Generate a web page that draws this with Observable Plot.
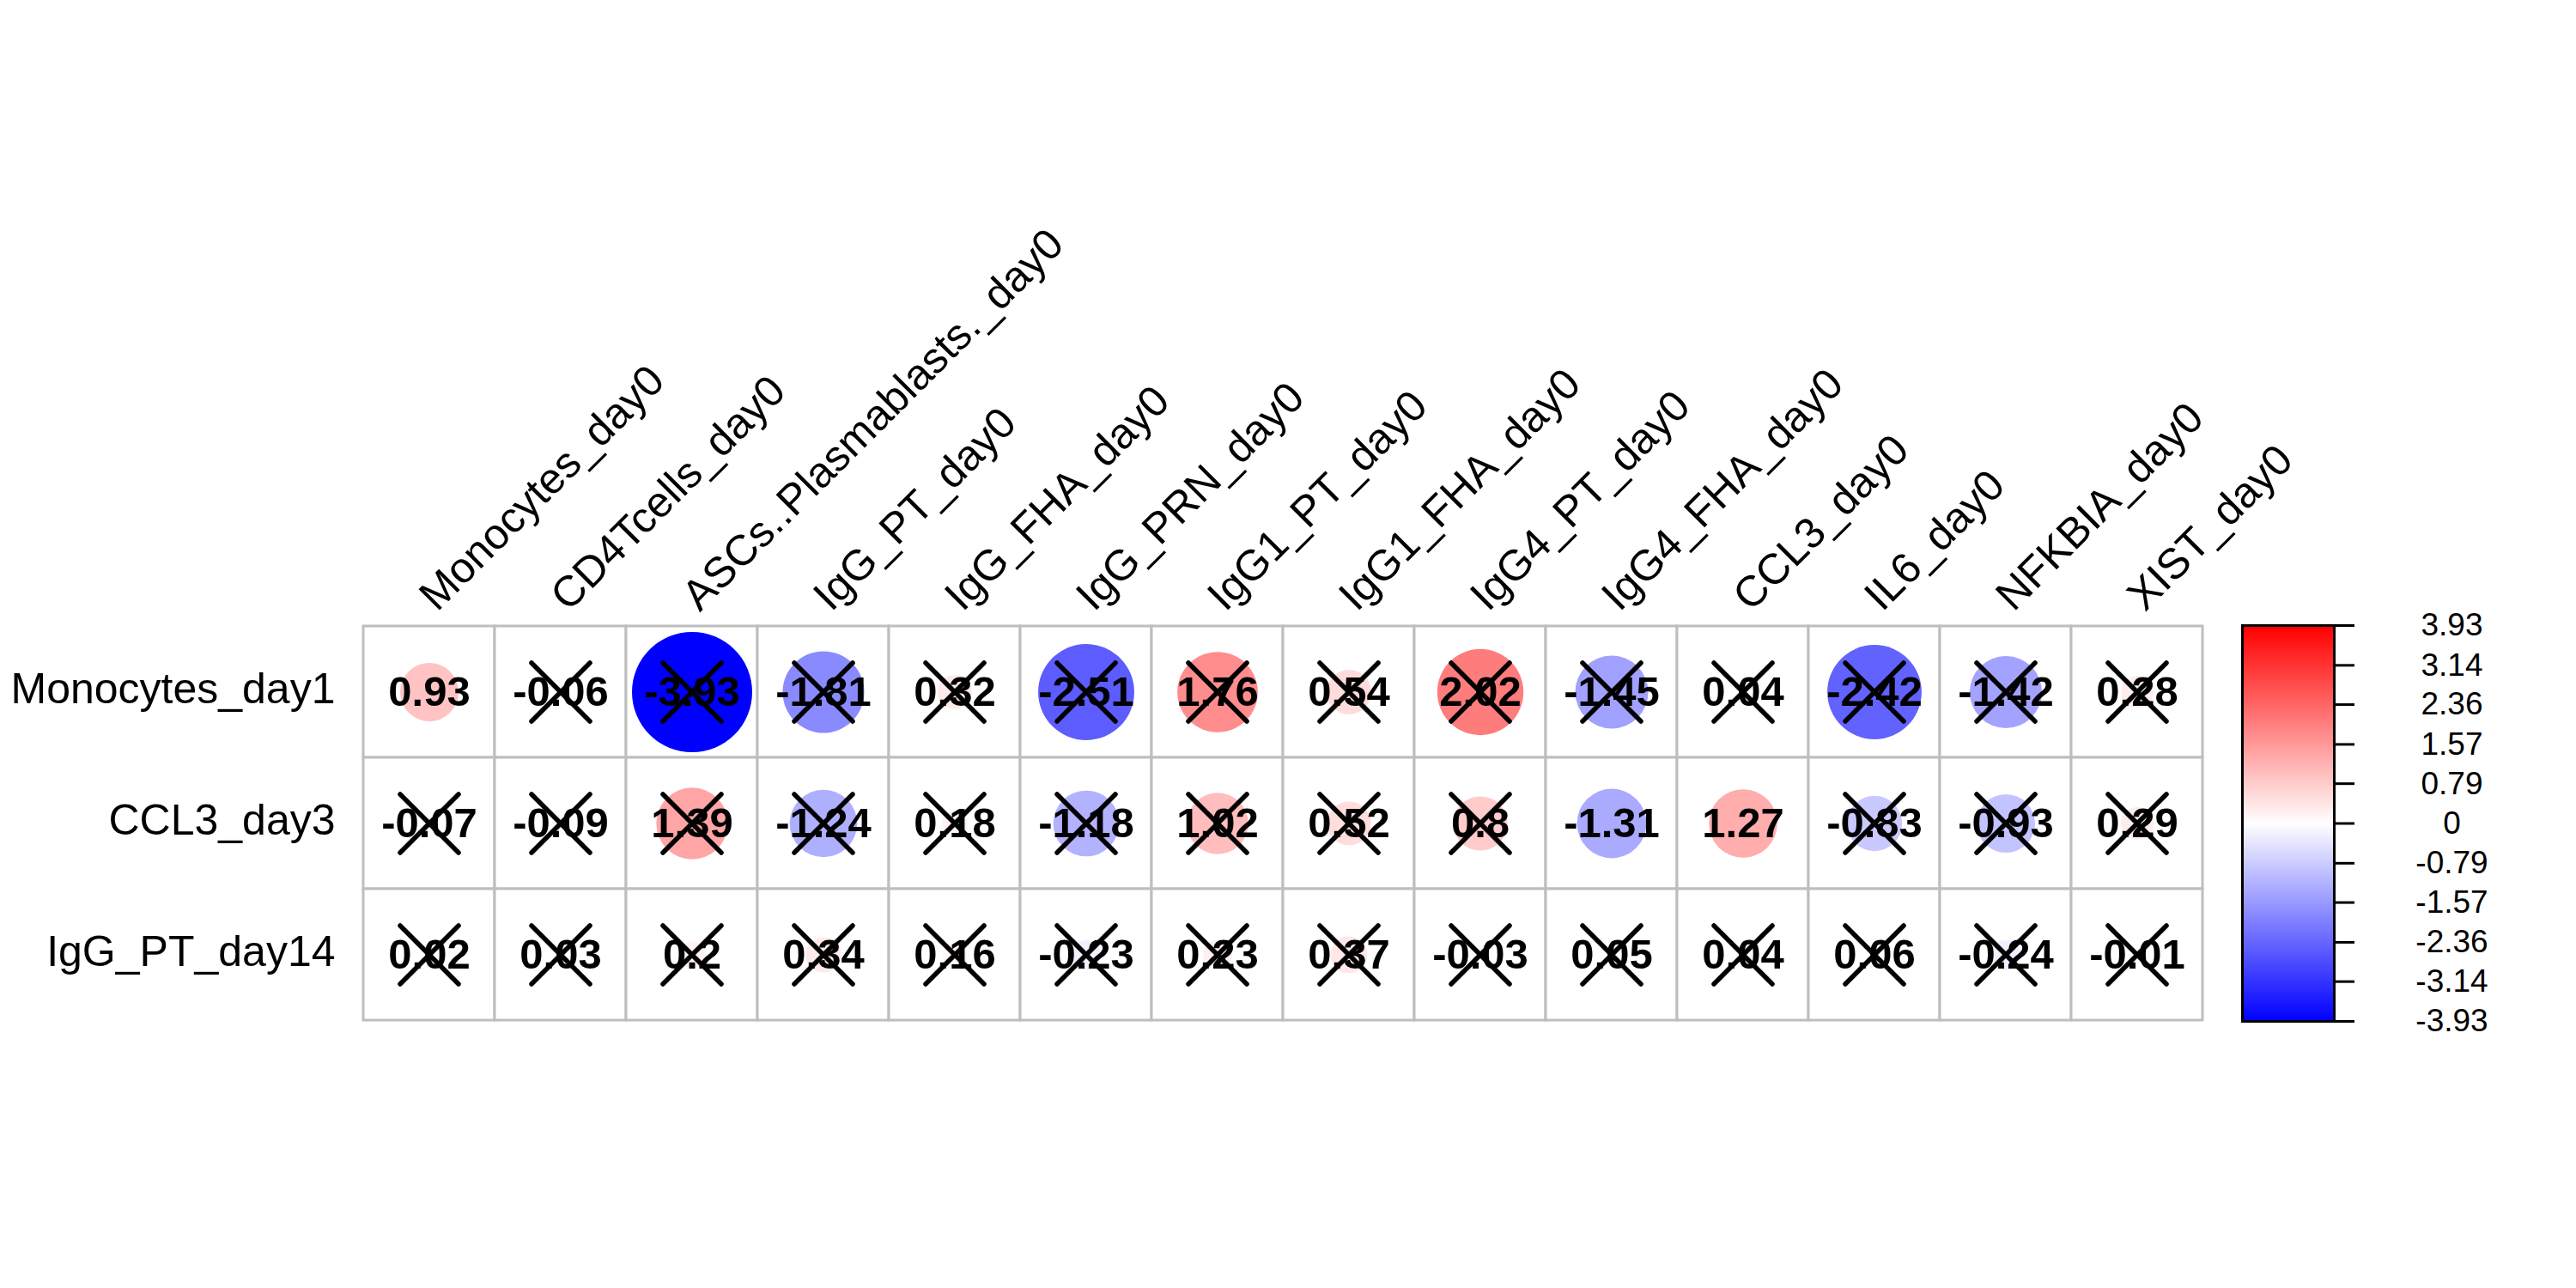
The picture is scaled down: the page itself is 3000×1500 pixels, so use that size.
<!DOCTYPE html>
<html>
<head>
<meta charset="utf-8">
<script src="https://cdn.jsdelivr.net/npm/d3@7"></script>
<script src="https://cdn.jsdelivr.net/npm/@observablehq/plot@0.6"></script>
<style>
  html, body { margin: 0; padding: 0; background: white; }
  #wrap { position: relative; width: 3000px; height: 1500px; background: white; }
  #wrap > svg { position: absolute; top: 0; }
</style>
</head>
<body>
<div id="wrap"></div>
<script>
const columns = ["Monocytes_day0","CD4Tcells_day0","ASCs..Plasmablasts._day0","IgG_PT_day0","IgG_FHA_day0","IgG_PRN_day0","IgG1_PT_day0","IgG1_FHA_day0","IgG4_PT_day0","IgG4_FHA_day0","CCL3_day0","IL6_day0","NFKBIA_day0","XIST_day0"];
const rows = ["Monocytes_day1","CCL3_day3","IgG_PT_day14"];

const valuesMonocytesDay1 = [0.93,-0.06,-3.93,-1.81,0.32,-2.51,1.76,0.54,2.02,-1.45,0.04,-2.42,-1.42,0.28];
const valuesCCL3Day3      = [-0.07,-0.09,1.39,-1.24,0.18,-1.18,1.02,0.52,0.8,-1.31,1.27,-0.83,-0.93,0.29];
const valuesIgGPTDay14    = [0.02,0.03,0.2,0.34,0.16,-0.23,0.23,0.37,-0.03,0.05,0.04,0.06,-0.24,-0.01];

// true = not significant (crossed out)
const crossedMonocytesDay1 = [false,true,true,true,true,true,true,true,true,true,true,true,true,true];
const crossedCCL3Day3      = [true,true,true,true,true,true,true,true,true,false,false,true,true,true];
const crossedIgGPTDay14    = [true,true,true,true,true,true,true,true,true,true,true,true,true,true];

const legendTicks = [3.93,3.14,2.36,1.57,0.79,0,-0.79,-1.57,-2.36,-3.14,-3.93];
const maxAbs = 3.93;

const seriesValues = [valuesMonocytesDay1, valuesCCL3Day3, valuesIgGPTDay14];
const seriesCrossed = [crossedMonocytesDay1, crossedCCL3Day3, crossedIgGPTDay14];
const cells = [];
rows.forEach((row, i) => columns.forEach((col, j) => {
  cells.push({row, col, value: seriesValues[i][j], crossed: seriesCrossed[i][j]});
}));

const font = "'Liberation Sans', Arial, Helvetica, sans-serif";
const colorScale = {type: "linear", domain: [-maxAbs, 0, maxAbs], range: ["#0000FF", "#FFFFFF", "#FF0000"], interpolate: "rgb"};

const main = Plot.plot({
  width: 3000, height: 1500,
  marginLeft: 418, marginRight: 430, marginTop: 728, marginBottom: 312,
  x: {type: "band", domain: columns, padding: 0, axis: null},
  y: {type: "band", domain: rows, padding: 0, axis: null},
  color: colorScale,
  r: {type: "sqrt", domain: [0, maxAbs], range: [0, 70]},
  style: {fontFamily: font, background: "transparent", overflow: "visible"},
  marks: [
    Plot.cell(cells, {x: "col", y: "row", fill: "white", stroke: "#BEBEBE", strokeWidth: 3}),
    Plot.dot(cells, {x: "col", y: "row", r: d => Math.abs(d.value), fill: "value", stroke: null}),
    Plot.text(cells, {x: "col", y: "row", text: d => String(d.value), fontSize: 49, fontWeight: "bold", fill: "black"}),
    Plot.dot(cells.filter(d => d.crossed), {x: "col", y: "row", symbol: "times", r: 31, stroke: "black", strokeWidth: 5.5, strokeLinecap: "round"}),
    Plot.text(columns, {x: d => d, frameAnchor: "top", text: d => d, rotate: -45, textAnchor: "start", lineAnchor: "bottom", dx: 9, dy: -15, fontSize: 50, fill: "black"}),
    Plot.text(rows, {y: d => d, frameAnchor: "left", text: d => d, textAnchor: "end", dx: -28, dy: -3, fontSize: 50, fill: "black"})
  ]
});
main.style.left = "0px";

const bar = Plot.plot({
  width: 420, height: 1500,
  marginLeft: 31, marginRight: 282, marginTop: 728, marginBottom: 311,
  x: {domain: [0, 1], axis: null},
  y: {domain: [-maxAbs, maxAbs]},
  color: colorScale,
  style: {fontFamily: font, background: "transparent", overflow: "visible"},
  marks: [
    Plot.raster({x1: 0, x2: 1, y1: -maxAbs, y2: maxAbs, width: 1, height: 600, fill: (x, y) => y, imageRendering: "auto"}),
    Plot.frame({stroke: "black", strokeWidth: 3}),
    Plot.axisY(legendTicks, {anchor: "right", tickSize: 23, tickPadding: 114, textAnchor: "middle", fontSize: 37, strokeWidth: 3, tickFormat: d => String(d), label: null, fill: "black"})
  ]
});
bar.style.left = "2580px";

const wrap = document.getElementById("wrap");
wrap.appendChild(main);
wrap.appendChild(bar);
</script>
</body>
</html>
